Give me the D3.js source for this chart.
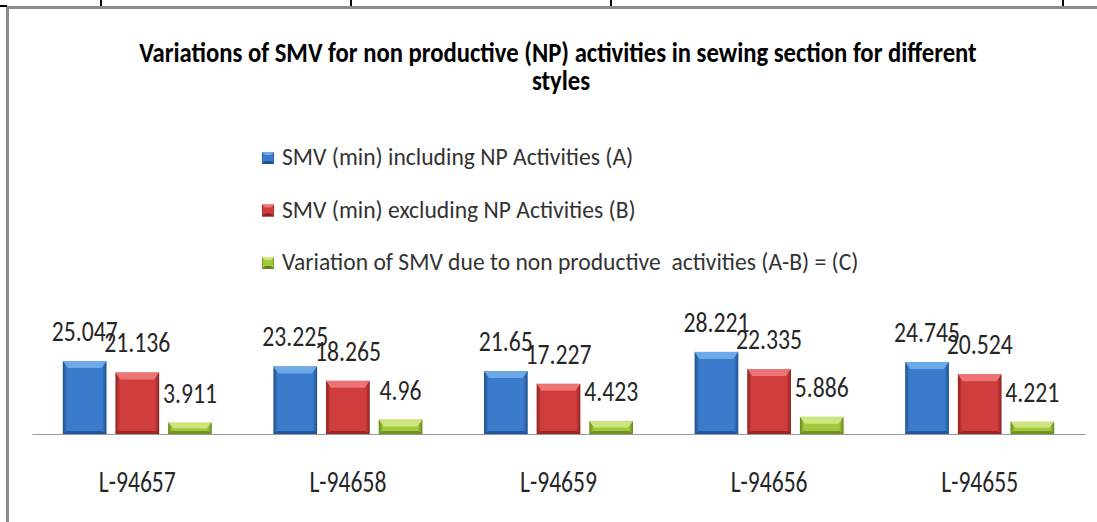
<!DOCTYPE html>
<html>
<head>
<meta charset="utf-8">
<script src="https://cdn.jsdelivr.net/npm/d3@7"></script>
<style>
  html, body { margin: 0; padding: 0; background: #fff; }
  svg { display: block; }
  text { font-family: Carlito, Calibri, "Liberation Sans Narrow", "Open Sans", sans-serif; white-space: pre; }
</style>
</head>
<body>
<svg id="chart" width="1097" height="522"></svg>
<script>
// ---- data ----
const categories = ["L-94657", "L-94658", "L-94659", "L-94656", "L-94655"];
const seriesNames = [
  "SMV (min) including NP Activities (A)",
  "SMV (min) excluding NP Activities (B)",
  "Variation of SMV due to non productive  activities (A-B) = (C)"
];
const smvIncluding = [25.047, 23.225, 21.65, 28.221, 24.745];
const smvExcluding = [21.136, 18.265, 17.227, 22.335, 20.524];
const smvVariation = [3.911, 4.96, 4.423, 5.886, 4.221];
const titleLines = [
  "Variations of SMV for non productive (NP) activities in sewing section for different",
  "styles"
];

const seriesValues = [smvIncluding, smvExcluding, smvVariation];
const palette = [
  { body: "#3b7bcb", light: "#74aeea", dark: "#1f4f8c" },
  { body: "#d03d3d", light: "#ee7a7a", dark: "#8f2020" },
  { body: "#a2c83e", light: "#d2e986", dark: "#66861c" }
];

const svg = d3.select("#chart");
const W = 1097, H = 522;

// ---- decorative page borders (document table) ----
svg.append("rect").attr("x", 7).attr("y", 6).attr("width", W - 7).attr("height", 3).attr("fill", "#8c8c8c");
svg.append("rect").attr("x", 6).attr("y", 6).attr("width", 3).attr("height", H - 6).attr("fill", "#8c8c8c");
svg.append("rect").attr("x", 0).attr("y", 5).attr("width", 7).attr("height", 2).attr("fill", "#000");
[101, 351, 611, 1063].forEach(x => {
  svg.append("rect").attr("x", x - 1).attr("y", 0).attr("width", 2).attr("height", 6).attr("fill", "#000");
});

// ---- gradients ----
const defs = svg.append("defs");
palette.forEach((p, i) => {
  const g = defs.append("linearGradient").attr("id", "grad" + i)
    .attr("x1", "0").attr("x2", "1").attr("y1", "0").attr("y2", "0");
  g.append("stop").attr("offset", "0").attr("stop-color", p.dark);
  g.append("stop").attr("offset", "0.1").attr("stop-color", p.body);
  g.append("stop").attr("offset", "0.9").attr("stop-color", p.body);
  g.append("stop").attr("offset", "1").attr("stop-color", p.dark);
});

// ---- scales ----
const baseY = 434;
const x0 = d3.scaleBand().domain(categories).range([32, 1085]).paddingInner(0).paddingOuter(0);
const x1 = d3.scaleBand().domain(d3.range(3)).range([0, x0.bandwidth()]).paddingInner(0.17).paddingOuter(0.585);
const y = d3.scaleLinear().domain([0, 30]).range([baseY, baseY - 87.3]);

function stretchedText(parent, x, yy, txt, size, sy, opts = {}) {
  return parent.append("text")
    .attr("transform", `translate(${x},${yy}) scale(1,${sy})`)
    .attr("text-anchor", opts.anchor || "middle")
    .attr("font-size", size)
    .attr("font-weight", opts.weight || "normal")
    .attr("fill", opts.fill || "#262626")
    .text(txt);
}

// ---- title ----
stretchedText(svg, 558, 62, titleLines[0], 24.7, 1.15, { weight: "bold", fill: "#000" });
stretchedText(svg, 561, 90, titleLines[1], 24.7, 1.15, { weight: "bold", fill: "#000" });

// ---- legend ----
const legend = svg.append("g");
seriesNames.forEach((name, i) => {
  const ly = 165 + i * 52.5;
  const p = palette[i];
  const sx = 262, s = 12, b = 3, top = ly - 13;
  legend.append("rect").attr("x", sx).attr("y", top).attr("width", s).attr("height", s).attr("fill", `url(#grad${i})`);
  legend.append("polygon")
    .attr("points", `${sx},${top} ${sx + s},${top} ${sx + s - b},${top + b} ${sx + b},${top + b}`)
    .attr("fill", p.light);
  legend.append("polygon")
    .attr("points", `${sx},${top + s} ${sx + s},${top + s} ${sx + s - b},${top + s - b} ${sx + b},${top + s - b}`)
    .attr("fill", p.dark);
  stretchedText(legend, 282, ly, name, 23.6, 1.05, { anchor: "start", fill: "#333" });
});

// ---- bars ----
const groups = svg.append("g").selectAll("g")
  .data(categories)
  .join("g")
  .attr("transform", d => `translate(${x0(d)},0)`);

groups.each(function (cat, ci) {
  const g = d3.select(this);
  seriesValues.forEach((vals, si) => {
    const v = vals[ci];
    const bx = x1(si), bw = x1.bandwidth();
    const by = y(v), bh = baseY - y(v);
    const p = palette[si];
    const bev = Math.min(7, bh / 2);
    g.append("rect").attr("x", bx).attr("y", by).attr("width", bw).attr("height", bh)
      .attr("fill", `url(#grad${si})`);
    // top bevel
    g.append("polygon")
      .attr("points", `${bx},${by} ${bx + bw},${by} ${bx + bw - 5},${by + bev} ${bx + 5},${by + bev}`)
      .attr("fill", p.light).attr("opacity", 0.9);
    // bottom bevel
    const bb = Math.min(3, bh / 3);
    g.append("polygon")
      .attr("points", `${bx},${baseY} ${bx + bw},${baseY} ${bx + bw - 4},${baseY - bb} ${bx + 4},${baseY - bb}`)
      .attr("fill", p.dark).attr("opacity", 0.8);
    // data label
    stretchedText(g, bx + bw / 2, by - 20, String(v), 23.7, 1.24, { fill: "#262626" });
  });
});

// ---- axis ----
const axis = d3.axisBottom(x0).tickSize(0).tickFormat("");
const axG = svg.append("g").attr("transform", `translate(0,${baseY})`).call(axis);
axG.select(".domain").attr("stroke", "#9a9a9a").attr("stroke-width", 1.2);

categories.forEach(c => {
  stretchedText(svg, x0(c) + x0.bandwidth() / 2, 492, c, 23.6, 1.3, { fill: "#262626" });
});
</script>
</body>
</html>
